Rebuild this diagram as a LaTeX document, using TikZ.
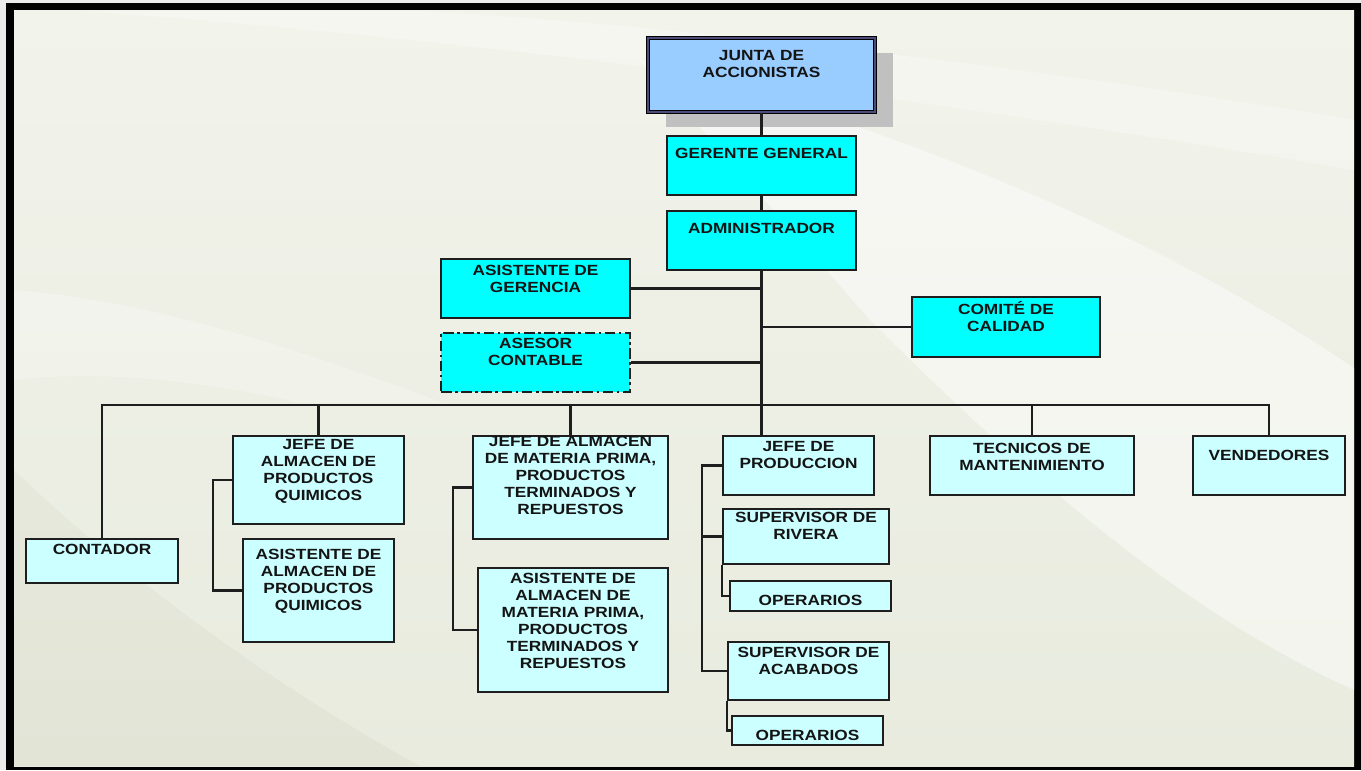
\documentclass[tikz,border=0pt]{standalone}
\usepackage{fontspec}
\newfontfamily\orgfont{Liberation Sans}[FakeStretch=1.17]
\usetikzlibrary{calc}
\usetikzlibrary{fit}
\definecolor{bgtop}{RGB}{242,243,235}
\definecolor{bgbot}{RGB}{232,235,222}
\definecolor{juntablue}{RGB}{153,204,255}
\definecolor{boxcyan}{RGB}{0,255,255}
\definecolor{boxpale}{RGB}{204,255,255}
\definecolor{shadowgray}{RGB}{192,192,192}
\definecolor{lineblack}{RGB}{30,30,30}
\newcommand{\orgbox}[6]{\node[#2, fit={(#3) (#4)}] (#1) {}; \node[txt] (#1-t) at ($(#1.north)+(0,#5)$) {#6};}

\begin{document}
\begin{tikzpicture}[x=0.02cm, y=-0.02cm,
    box/.style={rectangle, draw=lineblack, line width=1.2pt, inner sep=0pt},
    topbox/.style={box, fill=boxcyan},
    subbox/.style={box, fill=boxpale},
    juntabox/.style={rectangle, inner sep=0pt, fill=juntablue, draw=black, line width=0.8pt, double=black!55!blue!40!gray, double distance=0.6pt},
    txt/.style={font=\orgfont\bfseries\fontsize{8.4}{9.7}\selectfont, align=center, anchor=north, inner sep=0pt, text=black!92},
    conn/.style={draw=lineblack, line width=1.2pt}]
    \useasboundingbox (0,0) rectangle (1361,770);
    % frame and background
    \fill[black!8] (0,0) rectangle (1361,770);
    \fill[black] (6,3) rectangle (1361,770);
    \fill[top color=bgtop, bottom color=bgbot] (14,11) rectangle (1354,766);
    \begin{scope}
        \clip (14,11) rectangle (1354,766);
        \fill[white, opacity=0.25] (80,11) .. controls (500,40) and (1000,110) .. (1354,170) -- (1354,120) .. controls (1000,60) and (600,20) .. (420,11) -- cycle;
        \fill[white, opacity=0.45] (640,60) .. controls (900,130) and (1150,230) .. (1354,368) -- (1354,690) .. controls (1200,620) and (1050,500) .. (870,320) .. controls (800,240) and (720,150) .. (640,60) -- cycle;
        \fill[black!40!olive, opacity=0.04] (14,470) .. controls (150,600) and (300,700) .. (420,766) -- (14,766) -- cycle;
        \fill[white, opacity=0.25] (14,290) .. controls (150,300) and (300,350) .. (444,403) -- (300,403) .. controls (200,380) and (100,370) .. (14,380) -- cycle;
    \end{scope}
    % top of the chart
    \fill[shadowgray] (666,53) rectangle (893,127);
    \orgbox{junta}{juntabox}{648,38}{875,112}{13}{JUNTA DE\\ACCIONISTAS}
    \orgbox{gerente}{topbox}{667,136}{856,195}{13}{GERENTE GENERAL}
    \orgbox{admin}{topbox}{667,211}{856,270}{13}{ADMINISTRADOR}
    \orgbox{asistg}{topbox}{441,259}{630,318}{7}{ASISTENTE DE\\GERENCIA}
    \orgbox{asesor}{topbox, dash pattern=on 6pt off 2pt on 1.5pt off 2pt}{441,333}{630,392}{6}{ASESOR\\CONTABLE}
    \orgbox{comite}{topbox}{912,297}{1100,357}{5}{COMITÉ DE\\CALIDAD}
    % second level
    \orgbox{contador}{subbox}{26,539}{178,583}{6}{CONTADOR}
    \orgbox{jefequim}{subbox}{233,436}{404,524}{4}{JEFE DE\\ALMACEN DE\\PRODUCTOS\\QUIMICOS}
    \orgbox{asistquim}{subbox}{243,539}{394,642}{11}{ASISTENTE DE\\ALMACEN DE\\PRODUCTOS\\QUIMICOS}
    \orgbox{jefemp}{subbox}{473,436}{668,539}{0.5}{JEFE DE ALMACEN\\DE MATERIA PRIMA,\\PRODUCTOS\\TERMINADOS Y\\REPUESTOS}
    \orgbox{asistmp}{subbox}{478,568}{668,692}{6}{ASISTENTE DE\\ALMACEN DE\\MATERIA PRIMA,\\PRODUCTOS\\TERMINADOS Y\\REPUESTOS}
    \orgbox{jefeprod}{subbox}{723,436}{874,495}{6.5}{JEFE DE\\PRODUCCION}
    \orgbox{suprivera}{subbox}{723,509}{889,564}{4}{SUPERVISOR DE\\RIVERA}
    \orgbox{oper1}{subbox}{730,581}{891,611}{15}{OPERARIOS}
    \orgbox{supacab}{subbox}{728,642}{889,700}{6}{SUPERVISOR DE\\ACABADOS}
    \orgbox{oper2}{subbox}{732,716}{883,745}{15}{OPERARIOS}
    \orgbox{tecnicos}{subbox}{930,436}{1134,495}{7.5}{TECNICOS DE\\MANTENIMIENTO}
    \orgbox{vendedores}{subbox}{1193,436}{1345,495}{15}{VENDEDORES}
    % connectors
    \coordinate (busL) at (101,405);
    \coordinate (busR) at (1270,405);
    \coordinate (hub) at (admin.south |- busL);
    \draw[conn] (junta) -- (gerente);
    \draw[conn] (gerente) -- (admin);
    \draw[conn] (admin) -- (hub);
    \draw[conn] (busL) -- (busR);
    \draw[conn] (asistg.east) -- (asistg.east -| hub);
    \draw[conn] (asesor.east) -- (asesor.east -| hub);
    \draw[conn] (comite.west) -- (comite.west -| hub);
    \foreach \n in {contador,jefequim,jefemp,tecnicos,vendedores}
        \draw[conn] (\n.north) -- (\n.north |- busL);
    \draw[conn] (jefeprod.north -| hub) -- (hub);
    \draw[conn] (jefequim.west) -- ++(-19,0) |- (asistquim.west);
    \draw[conn] (jefemp.west) -- ++(-19,0) |- (asistmp.west);
    \draw[conn] (jefeprod.west) -- ++(-20,0) coordinate (prodbar) |- (supacab.west);
    \draw[conn] (prodbar |- suprivera.west) -- (suprivera.west);
    \draw[conn] (suprivera.south west) |- (oper1.west);
    \draw[conn] (supacab.south west) |- (oper2.west);
\end{tikzpicture}
\end{document}
